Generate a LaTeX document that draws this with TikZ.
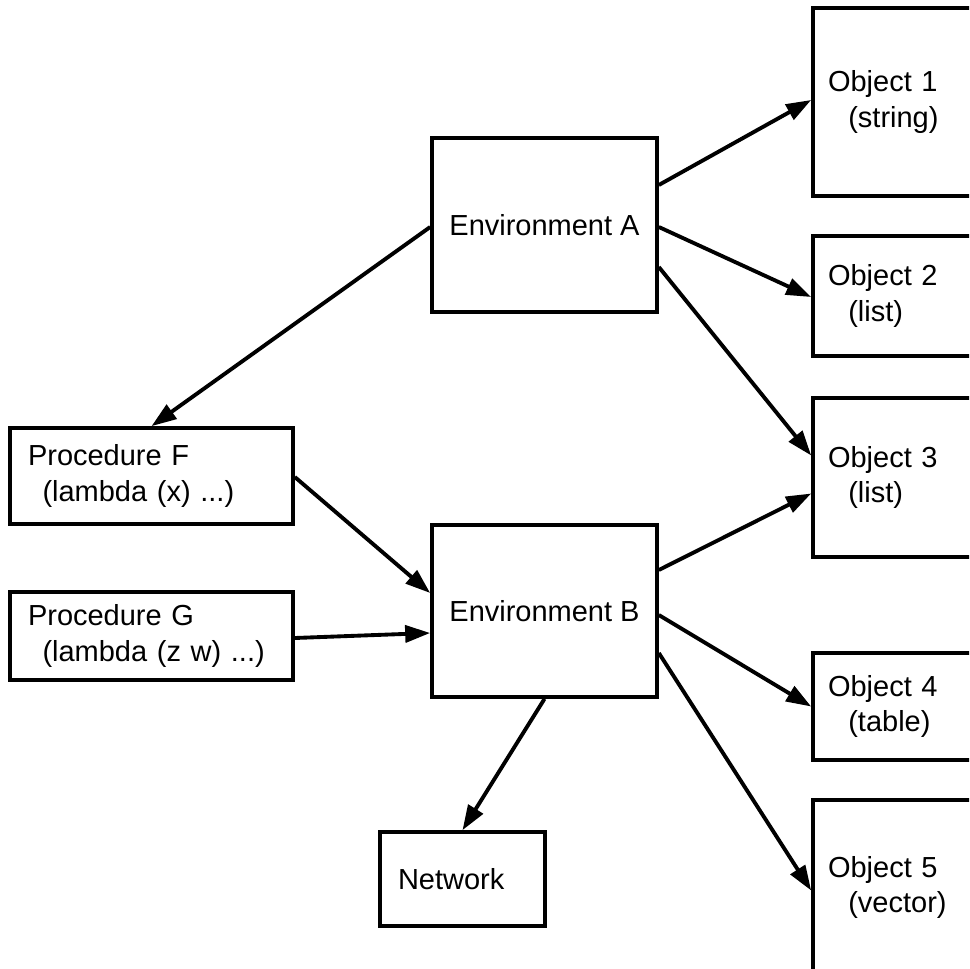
\documentclass[tikz,border=0pt]{standalone}
\usepackage{fontspec}
\setmainfont{Liberation Sans}
\usetikzlibrary{arrows.meta,calc}

\tikzset{
  envbox/.style={draw, line width=2.1pt, minimum width=4.5cm,
                 inner sep=0pt, align=center},
  objbox/.style={draw, line width=2.1pt, text width=3.34cm,
                 inner xsep=0.3cm, inner ysep=0pt, align=left},
  procbox/.style={draw, line width=2.1pt, text width=4.94cm,
                  inner xsep=0.36cm, inner ysep=0pt, align=left},
  netbox/.style={draw, line width=2.1pt, text width=2.58cm,
                 inner xsep=0.36cm, inner ysep=0pt, align=left},
  envarr/.style={-{Triangle[length=5mm,width=3.4mm]}, line width=2.2pt}
}

\begin{document}
\begin{tikzpicture}[x=0.02cm, y=-0.02cm,
    every node/.style={font=\fontsize{16.5}{20}\selectfont}]
  \path[use as bounding box, clip] (0,0) rectangle (969,969);

  % environments
  \node[envbox, minimum height=3.48cm] (envA) at (544.5,225) {Environment A};
  \node[envbox, minimum height=3.44cm] (envB) at (544.5,611) {Environment B};

  % objects (cut by the right edge)
  \node[objbox, minimum height=3.76cm] (obj1) at (911.5,102)
    {Object 1\\\hspace*{0.7em}(string)};
  \node[objbox, minimum height=2.4cm] (obj2) at (911.5,296)
    {Object 2\\\hspace*{0.7em}(list)};
  \node[objbox, minimum height=3.18cm] (obj3) at (911.5,477.5)
    {Object 3\\\hspace*{0.7em}(list)};
  \node[objbox, minimum height=2.14cm] (obj4) at (911.5,706.5)
    {Object 4\\\hspace*{0.7em}(table)};
  \node[objbox, minimum height=3.5cm] (obj5) at (911.5,887.5)
    {Object 5\\\hspace*{0.7em}(vector)};

  % procedures
  \node[procbox, minimum height=1.92cm] (procF) at (151.5,476)
    {Procedure F\\\hspace*{0.5em}(lambda (x) ...)};
  \node[procbox, minimum height=1.76cm] (procG) at (151.5,636)
    {Procedure G\\\hspace*{0.5em}(lambda (z w) ...)};

  \node[netbox, minimum height=1.88cm] (net) at (462.5,879) {Network};

  % references
  \draw[envarr] ($(envA.west)+(0,2)$) -- (procF.north);
  \draw[envarr] ($(envA.east)+(0,-40)$) -- ($(obj1.west)+(0,-2)$);
  \draw[envarr] ($(envA.east)+(0,2)$) -- ($(obj2.west)+(0,1)$);
  \draw[envarr] ($(envA.east)+(0,42)$) -- ($(obj3.west)+(0,-22)$);
  \draw[envarr] ($(envB.east)+(0,-41)$) -- ($(obj3.west)+(0,16)$);
  \draw[envarr] ($(envB.east)+(0,4)$) -- (obj4.west);
  \draw[envarr] ($(envB.east)+(0,42)$) -- ($(obj5.west)+(0,3)$);
  \draw[envarr] (envB.south) -- (net.north);
  \draw[envarr] ($(procF.east)+(0,1)$) -- ($(envB.west)+(0,-18)$);
  \draw[envarr] ($(procG.east)+(0,2)$) -- ($(envB.west)+(0,22)$);
\end{tikzpicture}
\end{document}
